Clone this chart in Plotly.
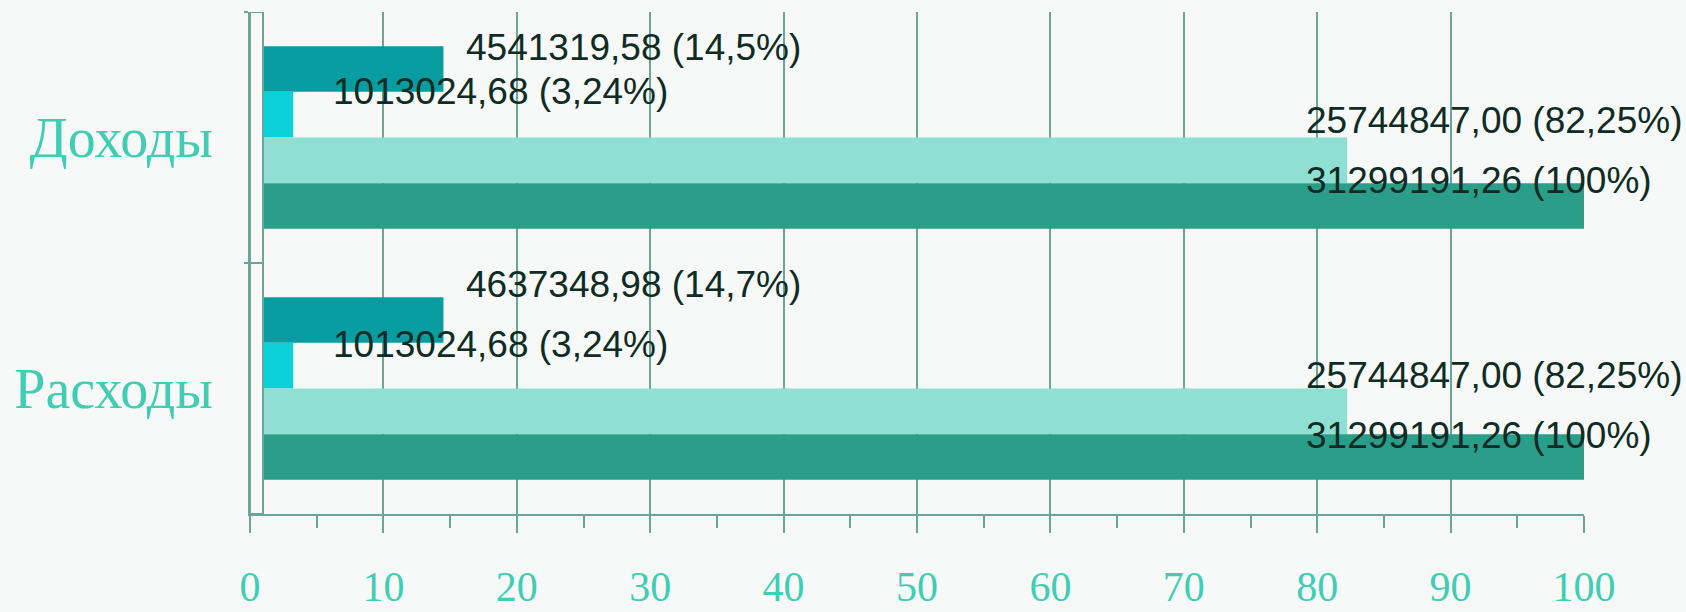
import plotly.graph_objects as go

categories = ["Доходы", "Расходы"]

# bar lengths (percent of total)
series_a = [14.5, 14.5]
series_b = [3.24, 3.24]
series_c = [82.25, 82.25]
series_d = [100, 100]

labels_a = ["4541319,58 (14,5%)", "4637348,98 (14,7%)"]
labels_b = ["1013024,68 (3,24%)", "1013024,68 (3,24%)"]
labels_c = ["25744847,00 (82,25%)", "25744847,00 (82,25%)"]
labels_d = ["31299191,26 (100%)", "31299191,26 (100%)"]

tick_vals = [0, 10, 20, 30, 40, 50, 60, 70, 80, 90, 100]
tick_text = ["0", "10", "20", "30", "40", "50", "60", "70", "80", "90", "100"]

colors = ["#099CA1", "#0CD0D9", "#8FE0D2", "#2B9E8A"]
grid_col = "#6BA596"
bg = "#F7F8F8"
label_col = "#3FCDB3"
text_col = "#0E2B24"

series = [series_a, series_b, series_c, series_d]
labels = [labels_a, labels_b, labels_c, labels_d]

fig = go.Figure()
for vals, col in zip(series, colors):
    fig.add_trace(go.Bar(
        y=categories, x=vals, orientation="h",
        marker=dict(color=col, line=dict(width=0)),
        showlegend=False, hoverinfo="skip",
    ))

# label placement (pixel offsets from bar end / category centre)
xshifts = [21, 38, -43, -280]
yshifts = [[90, 104], [46, 44], [17, 13], [-43, -47]]
for k in range(4):
    for j, cat in enumerate(categories):
        fig.add_annotation(
            x=series[k][j], y=cat, xref="x", yref="y",
            text=labels[k][j], showarrow=False,
            xanchor="left", yanchor="middle",
            xshift=xshifts[k], yshift=yshifts[k][j],
            font=dict(family="Liberation Sans, Arial", size=37, color=text_col),
        )

# pseudo-3D left wall
fig.add_shape(type="rect", xref="x", yref="y", xsizemode="pixel", xanchor=0,
              x0=0, x1=13, y0=-0.5, y1=1.5,
              fillcolor=bg, line=dict(color=grid_col, width=2), layer="above")
fig.add_shape(type="line", xref="x", yref="y", xsizemode="pixel", xanchor=0,
              x0=-4, x1=13, y0=0.5, y1=0.5,
              line=dict(color=grid_col, width=2), layer="above")

fig.update_layout(
    width=1686, height=612, autosize=False,
    margin=dict(l=250, r=102, t=12, b=98, pad=0),
    paper_bgcolor=bg, plot_bgcolor=bg,
    barmode="group", bargap=0.272, bargroupgap=0,
    xaxis=dict(
        range=[0, 100], tickvals=tick_vals, ticktext=tick_text,
        automargin=False,
        showgrid=True, gridcolor=grid_col, gridwidth=2,
        zeroline=False, showline=True, linecolor=grid_col, linewidth=2,
        ticks="outside", ticklen=17, tickwidth=2, tickcolor=grid_col,
        minor=dict(dtick=5, ticks="outside", ticklen=12, tickwidth=2,
                   tickcolor=grid_col, showgrid=False),
        tickfont=dict(family="Liberation Serif, Times New Roman", size=42, color=label_col),
        ticklabelstandoff=18,
        fixedrange=True,
    ),
    yaxis=dict(
        autorange=False, range=[1.5, -0.5], type="category",
        automargin=False,
        showgrid=False, zeroline=False,
        showline=True, linecolor=grid_col, linewidth=2,
        ticks="outside", tickson="boundaries", ticklen=4, tickwidth=2, tickcolor=grid_col,
        tickfont=dict(family="Liberation Serif, Times New Roman", size=56, color=label_col),
        ticklabelstandoff=24,
        fixedrange=True,
    ),
)

fig.write_html("out.html", config={"displayModeBar": False},
               post_script="document.body.style.margin='0';document.body.style.background='" + bg + "';")
